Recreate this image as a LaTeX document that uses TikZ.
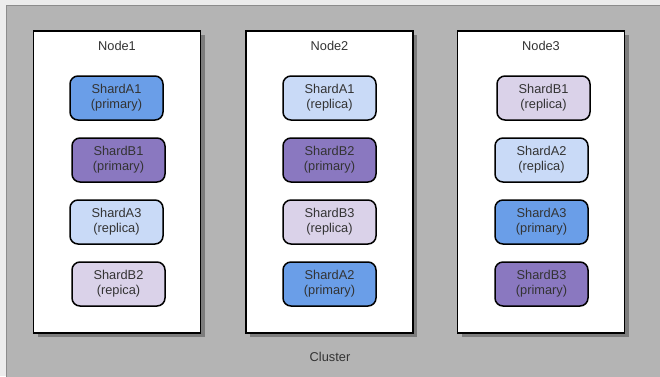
\documentclass[tikz,border=0pt]{standalone}
\usepackage{fontspec}
\setmainfont{Liberation Sans}
\usetikzlibrary{shadows}
\definecolor{primA}{HTML}{6A9EE8}
\definecolor{primB}{HTML}{8A78C0}
\definecolor{replA}{HTML}{C9DAF7}
\definecolor{replB}{HTML}{DAD2E9}
\definecolor{clustergray}{HTML}{B4B4B4}
\definecolor{txt}{HTML}{333333}
\begin{document}
\begin{tikzpicture}[x=1pt,y=-1pt,
    hostbox/.style={draw=black,line width=1.5pt,fill=white,minimum width=167pt,minimum height=302pt,
        drop shadow={shadow xshift=4pt,shadow yshift=-4pt,fill=black,opacity=0.3}},
    shard/.style={draw=black,line width=1.5pt,rounded corners=8pt,minimum width=93pt,minimum height=44pt,
        align=center,text=txt,font=\fontsize{12.8}{15}\selectfont,inner sep=0pt},
    label/.style={text=txt,font=\fontsize{12.8}{15}\selectfont}]
    \useasboundingbox (0,0) rectangle (660,376);
    \fill[gray!15] (0,0) rectangle (660,376);
    \draw[fill=clustergray,draw=gray!90] (6,5) rectangle (664,380);
    % nodes
    \node[hostbox] (node1) at (117,182) {};
    \node[hostbox] (node2) at (329.5,182) {};
    \node[hostbox] (node3) at (541,182) {};
    \node[label] (node1label) at (117,46) {Node1};
    \node[label] (node2label) at (329.5,46) {Node2};
    \node[label] (node3label) at (541,46) {Node3};
    % shards on Node1
    \node[shard,fill=primA] (n1a1) at (116.5,98) {ShardA1\\(primary)};
    \node[shard,fill=primB] (n1b1) at (118.5,160) {ShardB1\\(primary)};
    \node[shard,fill=replA] (n1a3) at (116.5,222) {ShardA3\\(replica)};
    \node[shard,fill=replB] (n1b2) at (118.5,284) {ShardB2\\(repica)};
    % shards on Node2
    \node[shard,fill=replA] (n2a1) at (329.5,98) {ShardA1\\(replica)};
    \node[shard,fill=primB] (n2b2) at (329.5,160) {ShardB2\\(primary)};
    \node[shard,fill=replB] (n2b3) at (329.5,222) {ShardB3\\(replica)};
    \node[shard,fill=primA] (n2a2) at (329.5,284) {ShardA2\\(primary)};
    % shards on Node3
    \node[shard,fill=replB] (n3b1) at (543.5,98) {ShardB1\\(replica)};
    \node[shard,fill=replA] (n3a2) at (541.5,160) {ShardA2\\(replica)};
    \node[shard,fill=primA] (n3a3) at (541.5,222) {ShardA3\\(primary)};
    \node[shard,fill=primB] (n3b3) at (541.5,284) {ShardB3\\(primary)};
    \node[label] (cluster) at (330,357) {Cluster};
\end{tikzpicture}
\end{document}
